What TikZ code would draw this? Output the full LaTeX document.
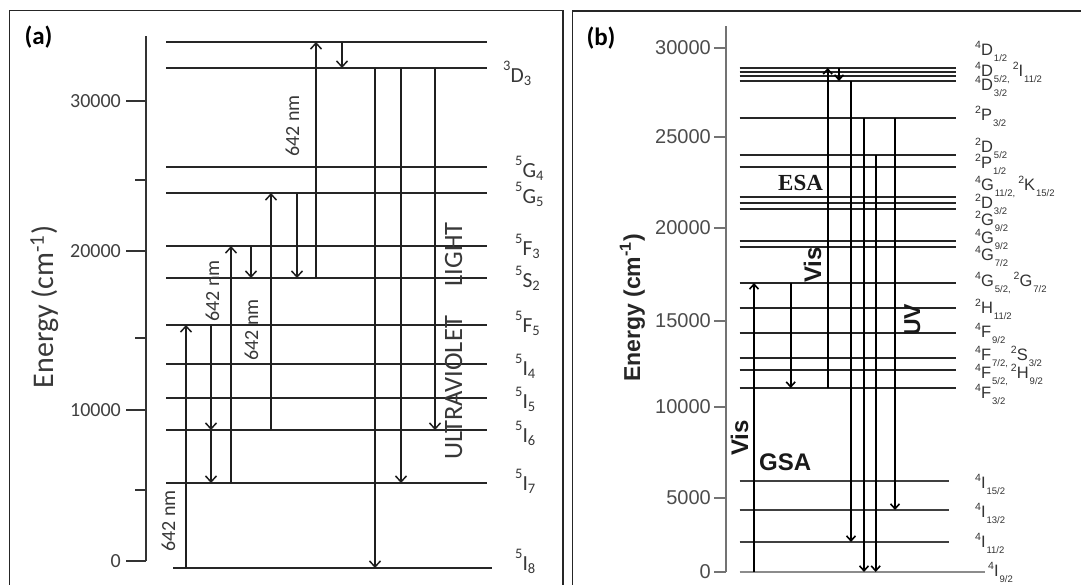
\documentclass[tikz,border=0pt]{standalone}
\usepackage{fontspec}
\setmainfont{Carlito}
\newfontfamily\arialf{Liberation Sans}
\newfontfamily\timesf{Liberation Serif}
\usetikzlibrary{arrows.meta}
\newcommand\fsz[1]{\fontsize{#1}{#1}\selectfont}
\newcommand\lva[3]{\raisebox{12pt}{\fsz{14.5}#1}#2\raisebox{-3pt}{\fsz{14.5}#3}}
\newcommand\lvb[3]{\raisebox{6.5pt}{\fsz{10.5}#1}#2\kern1pt\raisebox{-6.5pt}{\fsz{9.5}#3}}
\begin{document}
\begin{tikzpicture}[x=1pt,y=-1pt,
  frame/.style={draw=black!85, line width=1.5pt},
  lvA/.style={draw=black!85, line width=1.4pt},
  arA/.style={draw=black!88, line width=1.5pt, -{Straight Barb[length=6pt,width=11pt]}},
  axA/.style={draw=black!80, line width=1.4pt},
  tkA/.style={font=\fsz{20}, text=black!75, anchor=east, inner sep=0pt},
  lbA/.style={font=\fsz{21.5}, text=black!78, anchor=base west, inner sep=0pt},
  nmA/.style={font=\fsz{20}, text=black!78, rotate=90, anchor=base, inner sep=0pt},
  uvA/.style={font=\fsz{26.5}, text=black!78, rotate=90, anchor=base, inner sep=0pt},
  lvB/.style={draw=black!85, line width=1.7pt},
  arB/.style={draw=black, line width=1.6pt, -{Straight Barb[length=5pt,width=9pt]}},
  axB/.style={draw=black!55, line width=1.6pt},
  tkB/.style={font=\arialf\fsz{20}, text=black!70, anchor=east, inner sep=0pt},
  lbB/.style={font=\arialf\fsz{16.5}, text=black!80, anchor=base west, inner sep=0pt},
  vtB/.style={font=\arialf\bfseries\fsz{24}, text=black!90, rotate=90, anchor=base, inner sep=0pt}
]
\useasboundingbox (0,0) rectangle (1081,584);
\clip (0,0) rectangle (1081,584);
\fill[white] (0,0) rectangle (1081,584);

% ================= panel (a) =================
\draw[frame] (9.3,10.3) rectangle (563,620);
\node[font=\bfseries\fsz{25}, inner sep=0pt] (pa) at (38.5,37) {(a)};
\node[font=\fsz{30}, text=black!78, rotate=90, anchor=base, inner sep=0pt] (ya) at (53,307) {Energy (cm\textsuperscript{-1})};
\coordinate (aAxTop) at (146,36);
\coordinate (aAxBot) at (146,561);
\draw[axA] (aAxTop) -- (aAxBot);
\foreach \y/\t in {101/30000, 251/20000, 410/10000, 561/0}{
  \draw[axA] (126,\y) -- (146,\y);
  \node[tkA] at (121,\y) {\t};
}
\foreach \y in {180,338,490}{ \draw[axA] (135,\y) -- (146,\y); }

\foreach \n/\y in {aT/42, aD3/68, aG4/167, aG5/193, aF3/246, aS2/278, aF5/325, aI4/364, aI5/398, aI6/430, aI7/483, aI8/568}{
  \coordinate (\n) at (0,\y);
}
\foreach \n in {aT, aD3, aG4, aG5, aF3, aS2, aF5, aI4, aI5, aI6, aI7}{
  \draw[lvA] (166,0 |- \n) -- (487,0 |- \n);
}
\draw[lvA] (173,0 |- aI8) -- (492,0 |- aI8);

\node[lbA] (tD3) at (503,82) {\lva{3}{D}{3}};
\node[lbA] (tG4) at (515,177) {\lva{5}{G}{4}};
\node[lbA] (tG5) at (515,203) {\lva{5}{G}{5}};
\node[lbA] (tF3) at (515,255) {\lva{5}{F}{3}};
\node[lbA] (tS2) at (515,287) {\lva{5}{S}{2}};
\node[lbA] (tF5) at (515,332) {\lva{5}{F}{5}};
\node[lbA] (tI4) at (515,375) {\lva{5}{I}{4}};
\node[lbA] (tI5) at (515,408) {\lva{5}{I}{5}};
\node[lbA] (tI6) at (515,442) {\lva{5}{I}{6}};
\node[lbA] (tI7) at (515,490) {\lva{5}{I}{7}};
\node[lbA] (tI8) at (515,570) {\lva{5}{I}{8}};

% arrows (a)
\draw[arA] (186,0 |- aI8) -- (186,0 |- aF5);
\draw[arA] (211,0 |- aF5) -- (211,0 |- aI6);
\draw[arA] (211,0 |- aI6) -- (211,0 |- aI7);
\draw[arA] (231,0 |- aI7) -- (231,0 |- aF3);
\draw[arA] (251,0 |- aF3) -- (251,0 |- aS2);
\draw[arA] (271,0 |- aI6) -- (271,0 |- aG5);
\draw[arA] (297,0 |- aG5) -- (297,0 |- aS2);
\draw[arA] (316,0 |- aS2) -- (316,0 |- aT);
\draw[arA] (342,0 |- aT) -- (342,0 |- aD3);
\draw[arA] (375,0 |- aD3) -- (375,0 |- aI8);
\draw[arA] (401,0 |- aD3) -- (401,0 |- aI7);
\draw[arA] (435,0 |- aD3) -- (435,0 |- aI6);

\node[nmA] (n1) at (175,521) {642 nm};
\node[nmA] (n2) at (219,291) {642 nm};
\node[nmA] (n3) at (258,330) {642 nm};
\node[nmA] (n4) at (299,126) {642 nm};
\node[uvA] (uv1) at (462,388) {ULTRAVIOLET};
\node[uvA] (uv2) at (462,254.5) {LIGHT};

% ================= panel (b) =================
\draw[frame] (572.5,11) rectangle (1100,620);
\node[font=\bfseries\fsz{25}, inner sep=0pt] (pb) at (601,38) {(b)};
\node[font=\arialf\bfseries\fsz{23}, text=black!85, rotate=90, anchor=base, inner sep=0pt] (yb) at (640,308) {Energy (cm\textsuperscript{-1})};
\coordinate (bAxTop) at (726,26);
\coordinate (bAxBot) at (726,572);
\draw[axB] (bAxTop) -- (bAxBot);
\foreach \y/\t in {48/30000, 137/25000, 228/20000, 321/15000, 407/10000, 498/5000, 572/0}{
  \draw[axB] (714,\y) -- (726,\y);
  \node[tkB] at (711,\y) {\t};
}

\foreach \n/\y in {bA/68, bB/72, bC/76, bD/81, bP32/118, bD52/155, bP12/167, bE/197, bF/203, bG/209, bH/241, bJ/247, bG52/283, bH112/308, bF92/333, bF72/358, bF52/370, bF32/388, bI15/481, bI13/510, bI11/542, bI9/572}{
  \coordinate (\n) at (0,\y);
}
\foreach \n in {bA, bB, bC, bD, bP32, bD52, bP12, bE, bF, bG, bH, bJ, bG52, bH112, bF92, bF72, bF52, bF32}{
  \draw[lvB] (739.5,0 |- \n) -- (955.8,0 |- \n);
}
\foreach \n in {bI15, bI13, bI11}{
  \draw[lvB, draw=black!75] (739.5,0 |- \n) -- (949,0 |- \n);
}
\draw[lvB, draw=black!45] (739.5,0 |- bI9) -- (985,0 |- bI9);

% arrows (b)
\draw[arB] (754,0 |- bI9) -- (754,0 |- bG52);
\draw[arB] (790.7,0 |- bG52) -- (790.7,0 |- bF32);
\draw[arB] (827.7,0 |- bF32) -- (827.7,0 |- bA);
\draw[arB] (839,0 |- bA) -- (839,0 |- bD);
\draw[arB] (851,0 |- bD) -- (851,0 |- bI11);
\draw[arB] (864,0 |- bP32) -- (864,0 |- bI9);
\draw[arB] (875.7,0 |- bD52) -- (875.7,0 |- bI9);
\draw[arB] (895,0 |- bP32) -- (895,0 |- bI13);

\node[vtB] (vis1) at (748,438) {Vis};
\node[vtB] (vis2) at (821,265) {Vis};
\node[vtB, font=\arialf\bfseries\fsz{23}] (uvb) at (920,320) {UV};
\node[font=\arialf\bfseries\fsz{24}, text=black!90, anchor=base west, inner sep=0pt] (gsa) at (759,470) {GSA};
\node[font=\timesf\bfseries\fsz{23}, text=black!90, anchor=base west, inner sep=0pt] (esa) at (778,190) {ESA};

% level labels (b)
\node[lbB] at (975,55) {\lvb{4}{D}{1/2}};
\node[lbB] at (975,76) {\lvb{4}{D}{5/2,}\kern3pt\lvb{2}{I}{11/2}};
\node[lbB] at (975,90) {\lvb{4}{D}{3/2}};
\node[lbB] at (975,120) {\lvb{2}{P}{3/2}};
\node[lbB] at (975,152) {\lvb{2}{D}{5/2}};
\node[lbB] at (975,168) {\lvb{2}{P}{1/2}};
\node[lbB] at (975,190) {\lvb{4}{G}{11/2,}\kern3pt\lvb{2}{K}{15/2}};
\node[lbB] at (975,208) {\lvb{2}{D}{3/2}};
\node[lbB] at (975,225) {\lvb{2}{G}{9/2}};
\node[lbB] at (975,243) {\lvb{4}{G}{9/2}};
\node[lbB] at (975,260) {\lvb{4}{G}{7/2}};
\node[lbB] at (975,286) {\lvb{4}{G}{5/2,}\kern3pt\lvb{2}{G}{7/2}};
\node[lbB] at (975,313) {\lvb{2}{H}{11/2}};
\node[lbB] at (975,337) {\lvb{4}{F}{9/2}};
\node[lbB] at (975,360) {\lvb{4}{F}{7/2,}\kern3pt\lvb{2}{S}{3/2}};
\node[lbB] at (975,378) {\lvb{4}{F}{5/2,}\kern3pt\lvb{2}{H}{9/2}};
\node[lbB] at (975,398) {\lvb{4}{F}{3/2}};
\node[lbB] at (975,488) {\lvb{4}{I}{15/2}};
\node[lbB] at (975,517) {\lvb{4}{I}{13/2}};
\node[lbB] at (975,547) {\lvb{4}{I}{11/2}};
\node[lbB] at (988,576) {\lvb{4}{I}{9/2}};
\end{tikzpicture}
\end{document}
